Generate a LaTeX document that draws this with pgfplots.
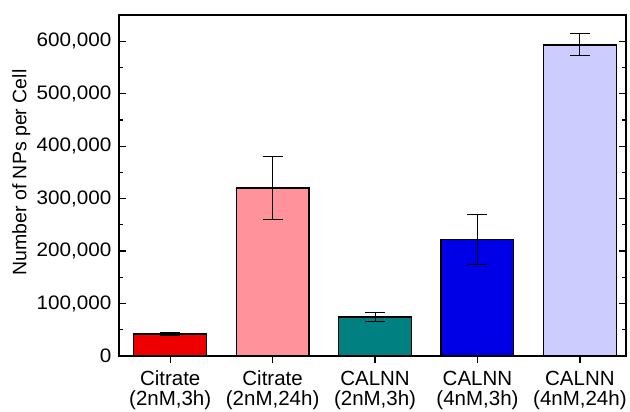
\documentclass[border=0pt]{standalone}
\usepackage{fontspec}
\setmainfont{Liberation Sans}[FakeStretch=1.06]
\newfontfamily\labfont{Liberation Sans}
\usepackage{pgfplots}
\pgfplotsset{compat=1.18}
\definecolor{c1}{HTML}{EE0000}
\definecolor{c2}{HTML}{FF929A}
\definecolor{c3}{HTML}{008080}
\definecolor{c4}{HTML}{0000E6}
\definecolor{c5}{HTML}{CCCCFF}
\begin{document}
\fontsize{19.5}{20}\selectfont
\begin{tikzpicture}
\useasboundingbox (-119pt,-56pt) rectangle (511pt,356pt);
\begin{axis}[at={(0,0)}, anchor=south west, scale only axis, width=507pt, height=341pt,
  ybar, bar width=0.71, bar shift=0pt,
  xmin=-0.5, xmax=4.45, ymin=0, ymax=650000,
  xtick={0,1,2,3,4},
  xticklabels={{Citrate\\(2nM,3h)}, {Citrate\\(2nM,24h)}, {CALNN\\(2nM,3h)}, {CALNN\\(4nM,3h)}, {CALNN\\(4nM,24h)}},
  xticklabel style={align=center, yshift=-8pt, font=\labfont\fontsize{20.5}{20}\selectfont},
  xtick pos=bottom,
  x tick style={yshift=-7pt, line width=1.2pt, black},
  major tick length=7pt, minor tick length=4pt,
  tick align=inside,
  ytick={0,100000,200000,300000,400000,500000,600000},
  yticklabels={0,{100,000},{200,000},{300,000},{400,000},{500,000},{600,000}},
  minor y tick num=1,
  ytick pos=both, yticklabel pos=left,
  y tick style={line width=1.2pt, black},
  scaled y ticks=false,
  yticklabel style={xshift=-1pt},
  ylabel={\labfont\fontsize{19.5}{20}\selectfont Number of NPs per Cell},
  ylabel style={at={(ticklabel cs:0.538)}, yshift=-7pt},
  axis line style={line width=1.3pt},
  every axis plot/.append style={draw=black, line width=1.3pt},
  error bars/error bar style={line width=1pt, black},
  error bars/error mark options={rotate=90, mark size=10pt, line width=1pt, black},
]
\addplot[fill=c1, error bars/.cd, y dir=both, y explicit] coordinates {(0,42000) +- (0,2000)};
\addplot[fill=c2, error bars/.cd, y dir=both, y explicit] coordinates {(1,320000) +- (0,60000)};
\addplot[fill=c3, error bars/.cd, y dir=both, y explicit] coordinates {(2,74500) +- (0,8500)};
\addplot[fill=c4, error bars/.cd, y dir=both, y explicit] coordinates {(3,222000) +- (0,48000)};
\addplot[fill=c5, error bars/.cd, y dir=both, y explicit] coordinates {(4,593000) +- (0,21000)};
\end{axis}
\end{tikzpicture}
\end{document}
